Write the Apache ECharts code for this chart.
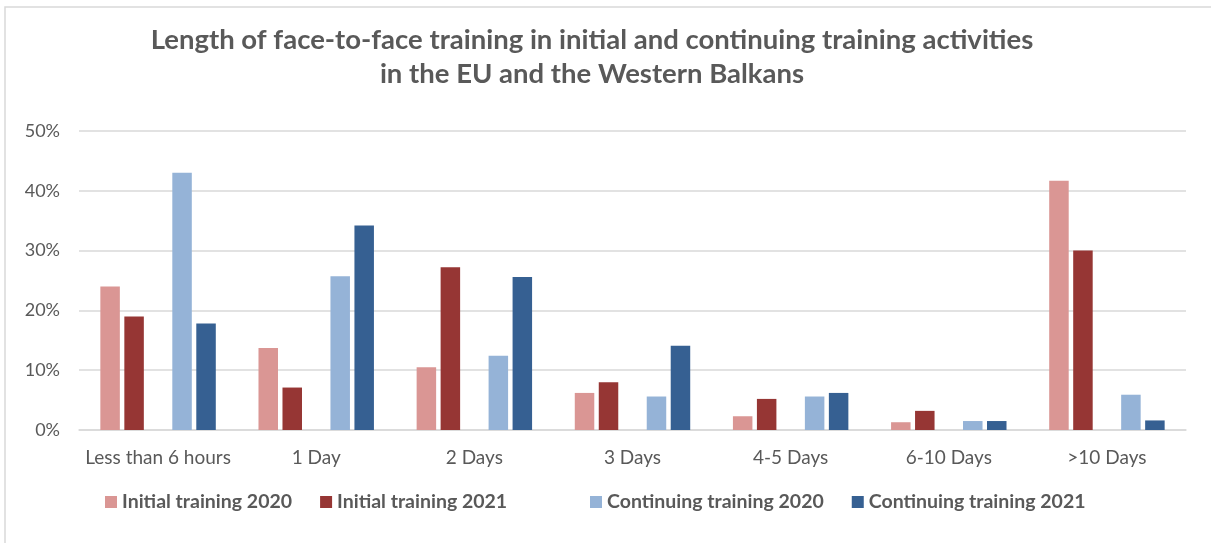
<!DOCTYPE html>
<html>
<head>
<meta charset="utf-8">
<script src="https://cdn.jsdelivr.net/npm/echarts@6/dist/echarts.min.js"></script>
<style>
  html, body { margin: 0; padding: 0; background: #fff; }
  #chart { width: 1211px; height: 543px; }
</style>
</head>
<body>
<div id="chart"></div>
<script>
// categories and values (percent)
var categories = ["Less than 6 hours", "1 Day", "2 Days", "3 Days", "4-5 Days", "6-10 Days", ">10 Days"];
var initial2020 = [24.0, 13.7, 10.5, 6.2, 2.3, 1.3, 41.7];
var initial2021 = [19.0, 7.1, 27.2, 8.0, 5.2, 3.2, 30.0];
var continuing2020 = [43.0, 25.7, 12.4, 5.6, 5.6, 1.5, 5.9];
var continuing2021 = [17.8, 34.2, 25.6, 14.1, 6.2, 1.5, 1.6];
var emptySlot = [null, null, null, null, null, null, null];
var yTicks = { min: 0, max: 50, interval: 10 };

var textColor = "#595959";
var font = "Lato";

var chart = echarts.init(document.getElementById("chart"));

function barSeries(name, data, color) {
  return {
    name: name,
    type: "bar",
    data: data,
    barGap: "23%",
    barCategoryGap: "27%",
    itemStyle: { color: color },
    animation: false
  };
}

var option = {
  backgroundColor: "#ffffff",
  title: {
    text: "Length of face-to-face training in initial and continuing training activities\nin the EU and the Western Balkans",
    left: 587,
    top: 18,
    textAlign: "center",
    textStyle: {
      fontFamily: font,
      fontSize: 27.5,
      fontWeight: "bold",
      color: textColor,
      lineHeight: 34
    }
  },
  graphic: [
    {
      type: "rect",
      shape: { x: 5, y: 7, width: 1300, height: 600 },
      style: { fill: null, stroke: "#d9d9d9", lineWidth: 1.5 },
      silent: true
    }
  ],
  legend: [
    {
      data: ["Initial training 2020", "Initial training 2021"],
      left: 105,
      top: 492,
      padding: 0,
      itemWidth: 12,
      itemHeight: 12,
      itemGap: 28,
      icon: "rect",
      textStyle: { fontFamily: font, fontSize: 19.5, fontWeight: "bold", color: textColor }
    },
    {
      data: ["Continuing training 2020", "Continuing training 2021"],
      left: 590,
      top: 492,
      padding: 0,
      itemWidth: 12,
      itemHeight: 12,
      itemGap: 28,
      icon: "rect",
      textStyle: { fontFamily: font, fontSize: 19.5, fontWeight: "bold", color: textColor }
    }
  ],
  grid: {
    left: 79,
    right: 25,
    top: 131,
    bottom: 113,
    containLabel: false
  },
  xAxis: {
    type: "category",
    data: categories,
    axisTick: { show: false },
    axisLine: { lineStyle: { color: "#d9d9d9", width: 1.5 } },
    axisLabel: { interval: 0, fontFamily: font, fontSize: 19, color: textColor, margin: 18 }
  },
  yAxis: {
    type: "value",
    min: yTicks.min,
    max: yTicks.max,
    interval: yTicks.interval,
    axisLine: { show: false },
    axisTick: { show: false },
    splitLine: { lineStyle: { color: "#d9d9d9", width: 1.5 } },
    axisLabel: { fontFamily: font, fontSize: 18, color: textColor, margin: 19, formatter: "{value}%" }
  },
  series: [
    barSeries("Initial training 2020", initial2020, "#DA9694"),
    barSeries("Initial training 2021", initial2021, "#963634"),
    barSeries("", emptySlot, "#ffffff"),
    barSeries("Continuing training 2020", continuing2020, "#95B3D7"),
    barSeries("Continuing training 2021", continuing2021, "#366092")
  ]
};

chart.setOption(option);
</script>
</body>
</html>
